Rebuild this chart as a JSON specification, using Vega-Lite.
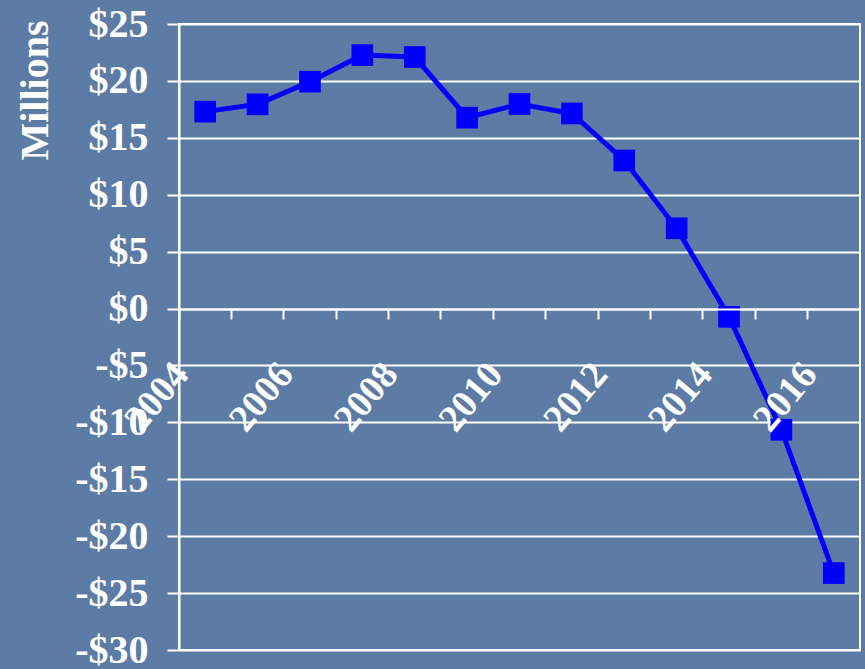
{
  "$schema": "https://vega.github.io/schema/vega-lite/v6.json",
  "autosize": {"type": "none"},
  "width": 681,
  "height": 626,
  "padding": {"left": 179, "top": 24, "right": 5, "bottom": 19},
  "background": "#5c7ca5",
  "config": {
    "view": {"stroke": "#ffffff", "strokeWidth": 2},
    "font": "Liberation Serif"
  },
  "data": {
    "values": [
      {"year": 2004, "value": 17.30},
      {"year": 2005, "value": 17.94},
      {"year": 2006, "value": 19.93},
      {"year": 2007, "value": 22.27},
      {"year": 2008, "value": 22.10},
      {"year": 2009, "value": 16.77},
      {"year": 2010, "value": 17.97},
      {"year": 2011, "value": 17.14},
      {"year": 2012, "value": 13.01},
      {"year": 2013, "value": 7.05},
      {"year": 2014, "value": -0.73},
      {"year": 2015, "value": -10.65},
      {"year": 2016, "value": -23.24}
    ]
  },
  "encoding": {
    "x": {
      "field": "year",
      "type": "ordinal",
      "scale": {"type": "band", "paddingInner": 0, "paddingOuter": 0},
      "axis": {
        "title": null,
        "bandPosition": 0,
        "offset": -341,
        "zindex": 1,
        "domain": true,
        "domainColor": "#ffffff",
        "domainWidth": 2,
        "ticks": true,
        "tickColor": "#ffffff",
        "tickWidth": 2,
        "tickSize": 10,
        "grid": false,
        "labelExpr": "datum.value % 2 === 0 ? datum.label : ''",
        "labelAngle": -50,
        "labelAlign": "right",
        "labelBaseline": "alphabetic",
        "labelOffset": -15,
        "labelPadding": 56,
        "labelOverlap": false,
        "labelBound": false,
        "labelFlush": false,
        "labelFont": "Liberation Serif",
        "labelFontWeight": "bold",
        "labelFontSize": 38,
        "labelColor": "#ffffff"
      }
    },
    "y": {
      "field": "value",
      "type": "quantitative",
      "scale": {"domain": [-30, 25], "nice": false, "zero": false},
      "axis": {
        "values": [-30, -25, -20, -15, -10, -5, 0, 5, 10, 15, 20, 25],
        "labelExpr": "datum.value < 0 ? '-$' + abs(datum.value) : '$' + datum.value",
        "domain": true,
        "domainColor": "#ffffff",
        "domainWidth": 2,
        "ticks": true,
        "tickColor": "#ffffff",
        "tickWidth": 2,
        "tickSize": 12,
        "grid": true,
        "gridColor": "#ffffff",
        "gridWidth": 2,
        "gridOpacity": 1,
        "labelPadding": 19,
        "labelFont": "Liberation Serif",
        "labelFontWeight": "bold",
        "labelFontSize": 40,
        "labelColor": "#ffffff",
        "labelOverlap": false,
        "labelBound": false,
        "labelFlush": false,
        "title": "Millions",
        "titleFont": "Liberation Serif",
        "titleFontWeight": "bold",
        "titleFontSize": 40,
        "titleColor": "#ffffff",
        "titleAngle": -90,
        "titleAlign": "right",
        "titleBaseline": "alphabetic",
        "titleX": -132,
        "titleY": -4
      }
    }
  },
  "layer": [
    {
      "mark": {"type": "line", "color": "#0000ff", "strokeWidth": 5}
    },
    {
      "mark": {"type": "point", "shape": "square", "filled": true, "size": 470, "color": "#0000ff", "opacity": 1, "strokeWidth": 0}
    }
  ]
}
